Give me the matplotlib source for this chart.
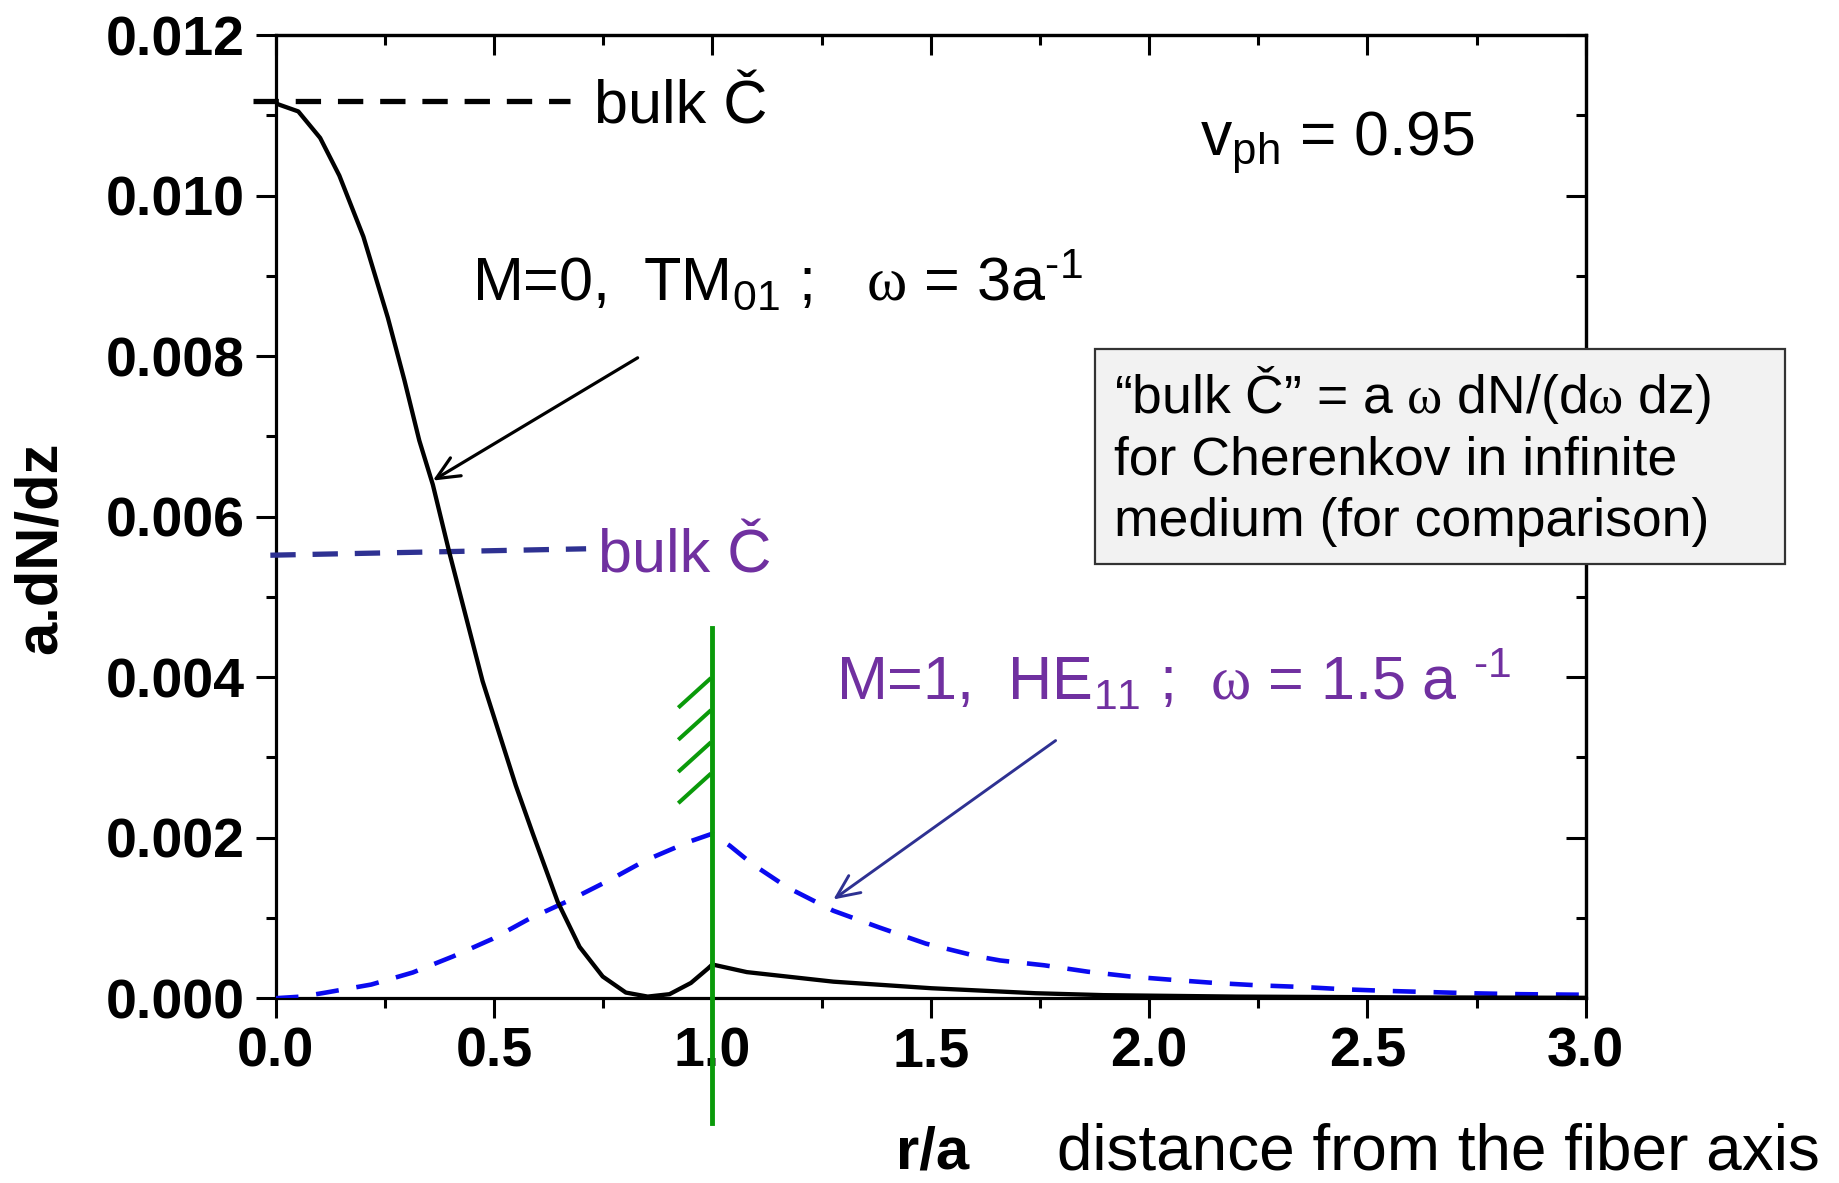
import matplotlib
matplotlib.use("Agg")
import matplotlib.pyplot as plt
from matplotlib.ticker import MultipleLocator, FormatStrFormatter
from matplotlib.patches import Rectangle

plt.rcParams['font.family'] = ['Liberation Sans', 'DejaVu Sans']
plt.rcParams['mathtext.fontset'] = 'custom'
plt.rcParams['mathtext.rm'] = 'Liberation Serif'
plt.rcParams['mathtext.sf'] = 'Liberation Sans'
plt.rcParams['mathtext.it'] = 'Liberation Sans:italic'
plt.rcParams['mathtext.bf'] = 'Liberation Sans:bold'

# ---------------- data ----------------
# M=0, TM01 (omega = 3/a), inside the fiber (r/a <= 1)
tm_r_in = [0.0, 0.052, 0.102, 0.146, 0.201, 0.257, 0.295, 0.329, 0.36, 0.398,
           0.436, 0.474, 0.512, 0.55, 0.589, 0.646, 0.696, 0.749, 0.802, 0.852,
           0.902, 0.951, 0.99, 1.0]
tm_y_in = [0.01115, 0.01105, 0.01072, 0.01025, 0.00949, 0.00848, 0.0077, 0.00695,
           0.0064, 0.00555, 0.00475, 0.00395, 0.0033, 0.00265, 0.00205, 0.0012,
           0.00064, 0.00027, 0.00007, 0.00002, 0.00005, 0.00019, 0.00037, 0.00042]
# outside the fiber (r/a >= 1)
tm_r_out = [1.0, 1.079, 1.277, 1.502, 1.74, 1.896, 2.2, 2.6, 3.0]
tm_y_out = [0.00042, 0.000325, 0.000206, 0.000124, 0.000062, 0.000038,
            0.00002, 0.00001, 0.000005]

# M=1, HE11 (omega = 1.5/a)
he_r = [0.0, 0.06, 0.115, 0.219, 0.314, 0.406, 0.497, 0.581, 0.673, 0.764, 0.848,
        0.947, 1.0,
        1.04, 1.092, 1.172, 1.277, 1.383, 1.489, 1.608, 1.659, 1.76, 1.86, 1.957,
        2.05, 2.15, 2.25, 2.35, 2.45, 2.55, 2.65, 2.75, 2.85, 2.95, 3.0]
he_y = [0.0, 0.00002, 0.00007, 0.00017, 0.00032, 0.00052, 0.00074, 0.00099, 0.00122,
        0.00147, 0.00172, 0.00195, 0.00205,
        0.0019, 0.00167, 0.00138, 0.00109, 0.00088, 0.00068, 0.00052, 0.00047,
        0.00041, 0.00033, 0.00027, 0.00023, 0.00019, 0.00016, 0.00014, 0.00011,
        0.00009, 0.000075, 0.00006, 0.00005, 0.000045, 0.000043]

# bulk Cherenkov reference levels
bulk_tm_r = [-0.051, 0.674]
bulk_tm_y = [0.01118, 0.01118]
bulk_he_r = [-0.012, 0.711]
bulk_he_y = [0.00552, 0.0056]

# fiber boundary marker
wall_r = [1.0, 1.0]
wall_y = [0.00461, -0.00156]
hatch_y0 = [0.00362, 0.00322, 0.00282, 0.00243]

x_ticks = [0.0, 0.5, 1.0, 1.5, 2.0, 2.5, 3.0]
y_ticks = [0.000, 0.002, 0.004, 0.006, 0.008, 0.010, 0.012]

# ---------------- figure ----------------
fig = plt.figure(figsize=(18.39, 11.83), dpi=100)
ax = fig.add_axes([0.14986, 0.15622, 0.71245, 0.81403])
ax.set_xlim(0, 3.0)
ax.set_ylim(0, 0.012)

BLACK = '#000000'
BLUE = '#0A0AF0'
NAVY = '#2E3192'
PURPLE = '#7030A0'
GREEN = '#0A9A0A'

ax.plot(tm_r_in, tm_y_in, color=BLACK, lw=3.1, zorder=4, solid_joinstyle='round')
ax.plot(tm_r_out, tm_y_out, color=BLACK, lw=3.1, zorder=4, solid_joinstyle='round')
ax.plot(he_r, he_y, color=BLUE, lw=3.3, dashes=(5.0, 3.9), zorder=3)

ax.plot(bulk_tm_r, bulk_tm_y, color=BLACK, lw=3.8, dashes=(4.8, 3.2),
        clip_on=False, zorder=3)
ax.plot(bulk_he_r, bulk_he_y, color=NAVY, lw=3.8, dashes=(4.8, 3.2),
        clip_on=False, zorder=3)

ax.plot(wall_r, wall_y, color=GREEN, lw=3.5, clip_on=False, zorder=5)
for y0 in hatch_y0:
    ax.plot([0.922, 0.997], [y0, y0 + 0.00037], color=GREEN, lw=2.9,
            solid_capstyle='butt', zorder=5)

# arrows
ax.annotate('', xy=(0.36, 0.00645), xytext=(0.829, 0.00798),
            arrowprops=dict(arrowstyle='->,head_length=0.55,head_width=0.25',
                            color=BLACK, lw=2.3, shrinkA=0, shrinkB=0,
                            mutation_scale=30), zorder=6)
ax.annotate('', xy=(1.277, 0.00123), xytext=(1.786, 0.00321),
            arrowprops=dict(arrowstyle='->,head_length=0.55,head_width=0.25',
                            color=NAVY, lw=2.1, shrinkA=0, shrinkB=0,
                            mutation_scale=30), zorder=6)

# ticks / spines
for s in ax.spines.values():
    s.set_linewidth(2.3)
ax.xaxis.set_major_locator(MultipleLocator(0.5))
ax.xaxis.set_minor_locator(MultipleLocator(0.25))
ax.yaxis.set_major_locator(MultipleLocator(0.002))
ax.yaxis.set_minor_locator(MultipleLocator(0.001))
ax.set_xticks(x_ticks)
ax.set_yticks(y_ticks)
ax.xaxis.set_major_formatter(FormatStrFormatter('%.1f'))
ax.yaxis.set_major_formatter(FormatStrFormatter('%.3f'))
ax.tick_params(which='major', direction='out', length=14.4, width=2.2,
               labelsize=40, pad=6)
ax.tick_params(which='minor', direction='out', length=7.2, width=2.2)
ax.tick_params(axis='y', which='major', pad=8)
for lab in ax.get_xticklabels() + ax.get_yticklabels():
    lab.set_fontweight('bold')

secx = ax.secondary_xaxis('top')
secx.xaxis.set_major_locator(MultipleLocator(0.5))
secx.xaxis.set_minor_locator(MultipleLocator(0.25))
secx.tick_params(which='major', direction='in', length=14.4, width=2.2, labeltop=False)
secx.tick_params(which='minor', direction='in', length=7.2, width=2.2)
secy = ax.secondary_yaxis('right')
secy.yaxis.set_major_locator(MultipleLocator(0.002))
secy.yaxis.set_minor_locator(MultipleLocator(0.001))
secy.tick_params(which='major', direction='in', length=14.4, width=2.2, labelright=False)
secy.tick_params(which='minor', direction='in', length=7.2, width=2.2)
for s in list(secx.spines.values()) + list(secy.spines.values()):
    s.set_linewidth(2.3)

# annotations
ANN = 44
HY = '\u2010'
ax.text(0.730, 0.0109, 'bulk Č', fontsize=ANN, color=BLACK, va='baseline', ha='left')
ax.text(0.450, 0.0087,
        r'M=0,  TM$_\mathsf{01}$ ;   $\mathrm{\omega}$ = 3a$^\mathsf{' + HY + '1}$',
        fontsize=ANN, color=BLACK, va='baseline', ha='left')
ax.text(2.117, 0.01051, r'v$_\mathsf{ph}$ = 0.95', fontsize=45, color=BLACK,
        va='baseline', ha='left')
ax.text(0.738, 0.0053, 'bulk Č', fontsize=ANN, color=PURPLE, va='baseline', ha='left')
ax.text(1.283, 0.003716,
        r'M=1,  HE$_\mathsf{11}$ ;  $\mathrm{\omega}$ = 1.5 a $^\mathsf{' + HY + '1}$',
        fontsize=ANN, color=PURPLE, va='baseline', ha='left')

# info box
W, H = 1839.0, 1183.0
box = Rectangle((1095 / W, 1 - 564 / H), (1785 - 1095) / W, (564 - 349) / H,
                transform=fig.transFigure, facecolor='#F2F2F2', edgecolor='#333333',
                lw=1.6, zorder=5)
fig.add_artist(box)
box_lines = [r'“bulk Č” = a $\mathrm{\omega}$ dN/(d$\mathrm{\omega}$ dz)',
             'for Cherenkov in infinite',
             'medium (for comparison)']
box_base = [413, 474, 536]
for t, yb in zip(box_lines, box_base):
    fig.text(1114 / W, 1 - yb / H, t, fontsize=38.5, va='baseline', ha='left', zorder=6)

# axis labels
fig.text(40 / W, 1 - 548 / H, 'a.dN/dz', fontsize=43, fontweight='bold',
         rotation=90, ha='center', va='center')
fig.text(896 / W, 1 - 1169 / H, 'r/a', fontsize=43, fontweight='bold',
         ha='left', va='baseline')
fig.text(1057 / W, 1 - 1169 / H, 'distance from the fiber axis', fontsize=46,
         ha='left', va='baseline')

fig.savefig('out.png', dpi=100)
